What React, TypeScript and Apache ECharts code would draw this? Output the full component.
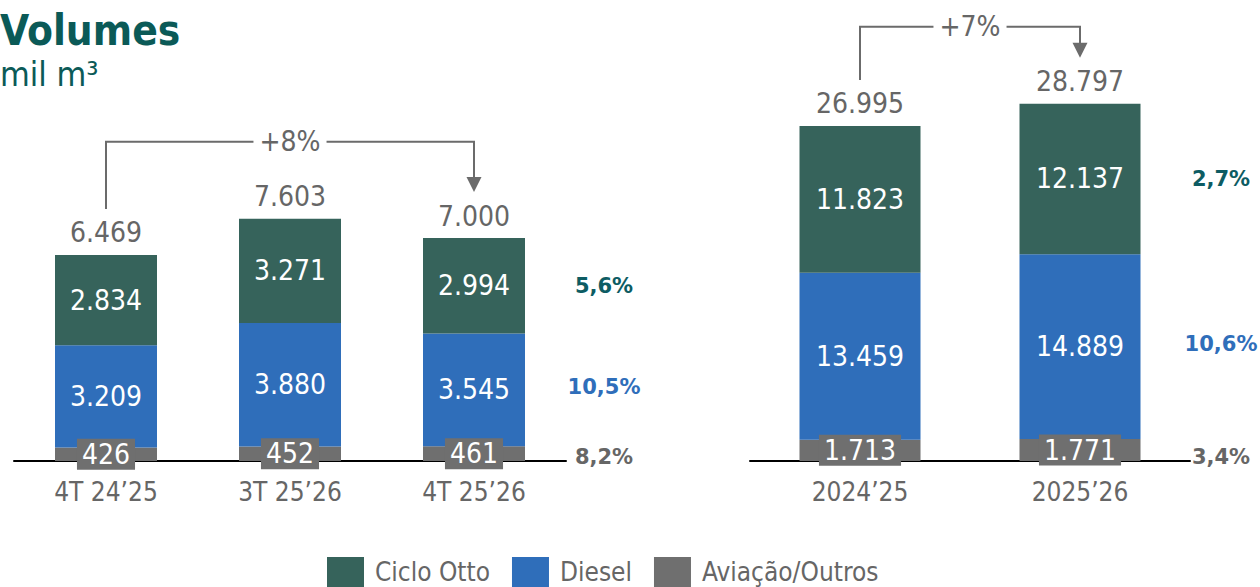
import React, { useEffect, useRef } from "react";
import * as echarts from "echarts";

// ---- data ----
const quarterCats = ["4T 24’25", "3T 25’26", "4T 25’26"];
const quarterOtto = [2834, 3271, 2994];
const quarterDiesel = [3209, 3880, 3545];
const quarterAviacao = [426, 452, 461];
const quarterTotals = [6469, 7603, 7000];
const quarterGrowth = ["5,6%", "10,5%", "8,2%"]; // Ciclo Otto, Diesel, Aviação/Outros
const quarterTotalGrowth = "+8%";

const yearCats = ["2024’25", "2025’26"];
const yearOtto = [11823, 12137];
const yearDiesel = [13459, 14889];
const yearAviacao = [1713, 1771];
const yearTotals = [26995, 28797];
const yearGrowth = ["2,7%", "10,6%", "3,4%"];
const yearTotalGrowth = "+7%";

const seriesNames = ["Ciclo Otto", "Diesel", "Aviação/Outros"];
const titleText = "Volumes";
const subtitleText = "mil m³";

// ---- styles ----
const FONT = "'DejaVu Sans Condensed', 'Liberation Sans Narrow', 'DejaVu Sans', sans-serif";
const FONT_WIDE = "'DejaVu Sans', Verdana, sans-serif";
const C_OTTO = "#36635b";
const C_DIESEL = "#2f6eba";
const C_AVI = "#6f6f6f";
const C_TEXT = "#666666";
const C_TITLE = "#0b5a57";
const C_TEAL = "#0d5c63";

const fmt = (v: number) => String(v).replace(/\B(?=(\d{3})+(?!\d))/g, ".");

function stackSeries(idx: number, otto: number[], diesel: number[], avi: number[], totals: number[], barWidth: number) {
  const common = {
    type: "bar" as const,
    xAxisIndex: idx,
    yAxisIndex: idx,
    stack: "s" + idx,
    barWidth,
  };
  return [
    {
      ...common,
      name: seriesNames[2],
      data: avi,
      itemStyle: { color: C_AVI },
      label: {
        show: true,
        position: "inside",
        color: "#fff",
        fontSize: 28,
        fontFamily: FONT,
        backgroundColor: C_AVI,
        padding: [2, 5, 1, 5],
        formatter: (p: any) => fmt(p.value),
      },
    },
    {
      ...common,
      name: seriesNames[1],
      data: diesel,
      itemStyle: { color: C_DIESEL },
      label: { show: true, position: "inside", color: "#fff", fontSize: 28, fontFamily: FONT, formatter: (p: any) => fmt(p.value) },
    },
    {
      ...common,
      name: seriesNames[0],
      data: otto,
      itemStyle: { color: C_OTTO },
      label: { show: true, position: "inside", color: "#fff", fontSize: 28, fontFamily: FONT, formatter: (p: any) => fmt(p.value) },
    },
    {
      ...common,
      name: "Total" + idx,
      data: totals.map(() => 0),
      itemStyle: { color: "transparent" },
      label: {
        show: true,
        position: "top",
        distance: 8,
        color: C_TEXT,
        fontSize: 28,
        fontFamily: FONT,
        formatter: (p: any) => fmt(totals[p.dataIndex]),
      },
    },
  ];
}

export default function App() {
  const ref = useRef<HTMLDivElement>(null);
  useEffect(() => {
    if (!ref.current) return;
    const chart = echarts.init(ref.current, undefined, { renderer: "svg" });
    const axisLabel = { color: C_TEXT, fontSize: 26, fontFamily: FONT, margin: 18 };
    const axisLine = { show: true, lineStyle: { color: "#000", width: 2 } };
    chart.setOption({
      animation: false,
      grid: [
        { left: 14, width: 552, top: 142.5, height: 318.5 },
        { left: 750, width: 440, top: 88.7, height: 372.3 },
      ],
      xAxis: [
        { type: "category", gridIndex: 0, data: quarterCats, axisLine, axisTick: { show: false }, axisLabel },
        { type: "category", gridIndex: 1, data: yearCats, axisLine, axisTick: { show: false }, axisLabel },
      ],
      yAxis: [
        { type: "value", gridIndex: 0, min: 0, max: 10000, show: false },
        { type: "value", gridIndex: 1, min: 0, max: 30000, show: false },
      ],
      legend: {
        data: seriesNames,
        left: 327,
        top: 557,
        itemWidth: 37,
        itemHeight: 30,
        itemGap: 22,
        icon: "rect",
        padding: 0,
        textStyle: { color: C_TEXT, fontSize: 26, fontFamily: FONT, padding: [0, 0, 0, 6] },
      },
      series: [
        ...stackSeries(0, quarterOtto, quarterDiesel, quarterAviacao, quarterTotals, 102),
        ...stackSeries(1, yearOtto, yearDiesel, yearAviacao, yearTotals, 121),
      ],
    });

    const graphics: any[] = [
      { type: "text", left: 0, top: 9, style: { text: titleText, fill: C_TITLE, font: `bold 42px ${FONT}` } },
      { type: "text", left: 0, top: 57, style: { text: subtitleText, fill: C_TITLE, font: `34px ${FONT}` } },
    ];

    const addBracket = (g: number, totals: number[], label: string) => {
      const n = totals.length;
      const p0 = chart.convertToPixel({ gridIndex: g }, [0, totals[0]]) as number[];
      const pN = chart.convertToPixel({ gridIndex: g }, [n - 1, totals[n - 1]]) as number[];
      const maxT = Math.max(...totals);
      const pMax = chart.convertToPixel({ gridIndex: g }, [0, maxT]) as number[];
      const yH = pMax[1] - 77;
      const y0 = p0[1] - 46;
      const tip = pN[1] - 46;
      const ls = { stroke: "#6b6b6b", lineWidth: 2 };
      graphics.push({ type: "polyline", shape: { points: [[p0[0], y0], [p0[0], yH], [pN[0], yH], [pN[0], tip - 14]] }, style: { ...ls, fill: null } });
      graphics.push({ type: "polygon", shape: { points: [[pN[0] - 7.5, tip - 15], [pN[0] + 7.5, tip - 15], [pN[0], tip]] }, style: { fill: "#6b6b6b" } });
      graphics.push({
        type: "text",
        x: (p0[0] + pN[0]) / 2,
        y: yH,
        style: { text: label, fill: C_TEXT, font: `28px ${FONT}`, align: "center", verticalAlign: "middle", backgroundColor: "#fff", padding: [0, 6] },
        z: 10,
      });
    };
    addBracket(0, quarterTotals, quarterTotalGrowth);
    addBracket(1, yearTotals, yearTotalGrowth);

    const addGrowth = (g: number, growth: string[], otto: number[], diesel: number[], avi: number[], xOffset: number) => {
      const n = otto.length - 1;
      const right = g === 0 ? 14 + 552 : 750 + 440;
      const yOtto = (chart.convertToPixel({ gridIndex: g }, [n, avi[n] + diesel[n] + otto[n] / 2]) as number[])[1];
      const yDiesel = (chart.convertToPixel({ gridIndex: g }, [n, avi[n] + diesel[n] / 2]) as number[])[1] - 3;
      const yAvi = (chart.convertToPixel({ gridIndex: g }, [n, 0]) as number[])[1] - 4;
      const colors = [C_TEAL, C_DIESEL, C_TEXT];
      [yOtto, yDiesel, yAvi].forEach((y, i) => {
        graphics.push({
          type: "text",
          x: right + xOffset,
          y,
          style: { text: growth[i], fill: colors[i], font: `bold 21px ${FONT_WIDE}`, align: "center", verticalAlign: "middle" },
        });
      });
    };
    addGrowth(0, quarterGrowth, quarterOtto, quarterDiesel, quarterAviacao, 38);
    addGrowth(1, yearGrowth, yearOtto, yearDiesel, yearAviacao, 31);

    chart.setOption({ graphic: graphics });
    return () => chart.dispose();
  }, []);
  return <div ref={ref} style={{ position: "absolute", left: 0, top: 0, width: 1260, height: 587 }} />;
}
